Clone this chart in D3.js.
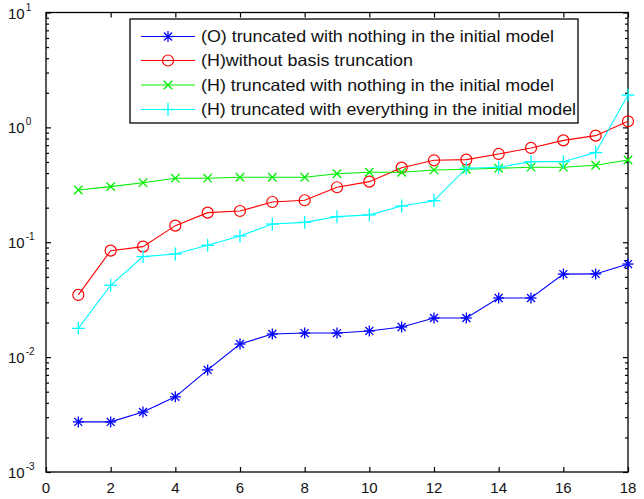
<!DOCTYPE html>
<html><head><meta charset="utf-8">
<script src="https://cdn.jsdelivr.net/npm/d3@7"></script>
<style>body{margin:0;background:#fff;} svg{display:block;} text{font-family:"Liberation Sans",Arial,sans-serif;}</style>
</head><body><svg id="c" width="644" height="499"></svg>
<script>
const xValues = [1,2,3,4,5,6,7,8,9,10,11,12,13,14,15,16,17,18];
const seriesNames = [
  "(O) truncated with nothing in the initial model",
  "(H)without basis truncation",
  "(H) truncated with nothing in the initial model",
  "(H) truncated with everything in the initial model"
];
const seriesO = [0.00273,0.00273,0.00333,0.00451,0.00774,0.0130,0.0159,0.0162,0.0162,0.0169,0.0183,0.0219,0.0219,0.0327,0.0327,0.0528,0.0530,0.0646];
const seriesHnone = [0.0348,0.0845,0.0916,0.1395,0.181,0.187,0.224,0.232,0.301,0.337,0.446,0.517,0.524,0.587,0.662,0.771,0.847,1.13];
const seriesHtrunc = [0.285,0.305,0.330,0.361,0.361,0.368,0.368,0.368,0.395,0.407,0.407,0.426,0.432,0.441,0.45,0.45,0.468,0.52];
const seriesHall = [0.0178,0.0422,0.075,0.079,0.0941,0.1135,0.144,0.149,0.167,0.173,0.207,0.230,0.441,0.45,0.503,0.503,0.603,1.91];
const xTicks = [0,2,4,6,8,10,12,14,16,18];
const yExponents = [-3,-2,-1,0,1];
const colors = ["#0000ff","#ff0000","#00ee00","#00ffff"];
const markers = ["star","circle","cross","plus"];

const svg = d3.select("#c");
const L = 46, R = 628, T = 12.5, B = 472;
const x = d3.scaleLinear().domain([0,18]).range([L,R]);
const y = d3.scaleLog().domain([1e-3,10]).range([B,T]);

// frame
svg.append("rect").attr("x",L).attr("y",T).attr("width",R-L).attr("height",B-T)
  .attr("fill","none").attr("stroke","#000").attr("stroke-width",1.3);

const allY = y.ticks();
const major = v => Math.abs(Math.log10(v) - Math.round(Math.log10(v))) < 1e-9;
function yAxis(g, side){
  const ax = (side==="left"? d3.axisLeft(y) : d3.axisRight(y)).tickValues(allY).tickFormat("")
    .tickSize(-4);
  g.call(ax);
  g.select(".domain").remove();
  g.selectAll(".tick line").attr("stroke","#000").attr("stroke-width",1.2)
    .attr("x2", d => (side==="left"?1:-1)*(major(d)?5:3));
}
svg.append("g").attr("transform",`translate(${L},0)`).call(g=>yAxis(g,"left"));
svg.append("g").attr("transform",`translate(${R},0)`).call(g=>yAxis(g,"right"));
function xAxis(g, side){
  const ax = (side==="bottom"? d3.axisBottom(x) : d3.axisTop(x)).tickValues(xTicks).tickFormat("").tickSize(-5);
  g.call(ax);
  g.select(".domain").remove();
  g.selectAll(".tick line").attr("stroke","#000").attr("stroke-width",1.2);
}
svg.append("g").attr("transform",`translate(0,${B})`).call(g=>xAxis(g,"bottom"));
svg.append("g").attr("transform",`translate(0,${T})`).call(g=>xAxis(g,"top"));

// x labels
svg.selectAll("text.xl").data(xTicks).join("text").attr("class","xl")
  .attr("x", d=>x(d)).attr("y", 493).attr("text-anchor","middle")
  .attr("font-size",15).attr("fill","#111").text(d=>d);
// y labels
const yl = svg.selectAll("text.yl").data(yExponents).join("text").attr("class","yl")
  .attr("x", 8).attr("y", d=>y(Math.pow(10,d))+6).attr("font-size",15).attr("fill","#111");
yl.append("tspan").text("10");
yl.append("tspan").attr("font-size",10).attr("dx",1).attr("dy",-8).text(d=>d);

// markers
function drawMarker(g, type, cx, cy, color){
  if(type==="circle"){
    g.append("circle").attr("cx",cx).attr("cy",cy).attr("r",5.5).attr("fill","none").attr("stroke",color).attr("stroke-width",1.2);
  } else {
    let segs = [];
    const s = type==="plus"?6.5: type==="cross"?4.2:5.5;
    if(type==="plus"||type==="star") segs.push([-s,0,s,0],[0,-s,0,s]);
    if(type==="cross"||type==="star"){ const d = type==="star"? s*0.72 : s; segs.push([-d,-d,d,d],[-d,d,d,-d]); }
    segs.forEach(q=>g.append("line").attr("x1",cx+q[0]).attr("y1",cy+q[1]).attr("x2",cx+q[2]).attr("y2",cy+q[3])
      .attr("stroke",color).attr("stroke-width",1.3));
  }
}

const allSeries = [seriesO, seriesHnone, seriesHtrunc, seriesHall];
const line = d3.line().x(d=>x(d[0])).y(d=>y(d[1]));
allSeries.forEach((vals,i)=>{
  const pts = xValues.map((xv,j)=>[xv, vals[j]]);
  const g = svg.append("g");
  g.append("path").attr("d", line(pts)).attr("fill","none").attr("stroke",colors[i]).attr("stroke-width",1.1);
  pts.forEach(p=>drawMarker(g, markers[i], x(p[0]), y(p[1]), colors[i]));
});

// legend
const lg = svg.append("g");
lg.append("rect").attr("x",130).attr("y",19).attr("width",448).attr("height",104)
  .attr("fill","#fff").attr("stroke","#000").attr("stroke-width",1.3);
const rowY = [36.5,60.5,85,109.5];
const textW = [353,212,353,375];
seriesNames.forEach((name,i)=>{
  lg.append("line").attr("x1",141).attr("x2",195).attr("y1",rowY[i]).attr("y2",rowY[i])
    .attr("stroke",colors[i]).attr("stroke-width",1.1);
  drawMarker(lg, markers[i], 168, rowY[i], colors[i]);
  lg.append("text").attr("x",201).attr("y",rowY[i]+5.5).attr("font-size",16.5).attr("fill","#111")
    .attr("textLength",textW[i]).attr("lengthAdjust","spacingAndGlyphs").text(name);
});
</script></body></html>
